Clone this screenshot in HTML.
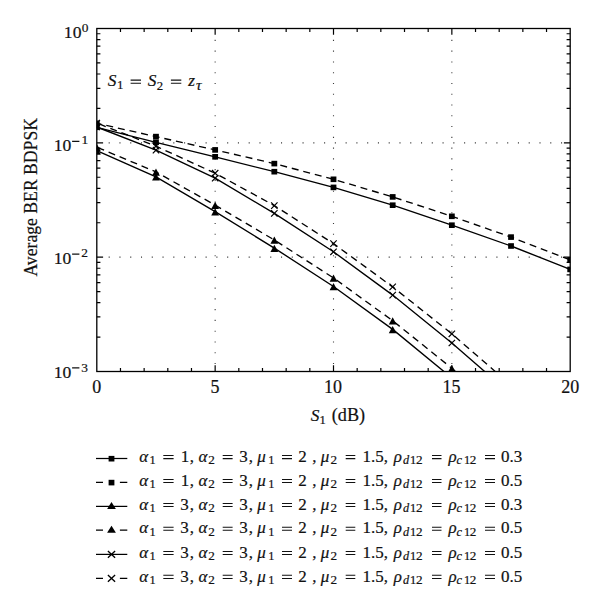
<!DOCTYPE html><html><head><meta charset="utf-8"><style>html,body{margin:0;padding:0;background:#fff;width:600px;height:607px;overflow:hidden}svg{display:block}text{font-family:"Liberation Serif",serif;fill:#111;stroke:#111;stroke-width:0.2px}.i{font-style:italic}</style></head><body>
<svg width="600" height="607" viewBox="0 0 600 607">
<defs><clipPath id="c"><rect x="96.8" y="28.5" width="473.40000000000003" height="343.0"/></clipPath></defs>
<g stroke="#3a3a3a" stroke-width="1.1" stroke-dasharray="1.1 9.67"><line x1="215.15" y1="39.85" x2="215.15" y2="370.50"/><line x1="333.50" y1="39.85" x2="333.50" y2="370.50"/><line x1="451.85" y1="39.85" x2="451.85" y2="370.50"/><line x1="108.65" y1="142.83" x2="569.20" y2="142.83"/><line x1="108.65" y1="257.17" x2="569.20" y2="257.17"/></g>
<path d="M120.47 371.50v-3.6M120.47 28.50v3.6M144.14 371.50v-3.6M144.14 28.50v3.6M167.81 371.50v-3.6M167.81 28.50v3.6M191.48 371.50v-3.6M191.48 28.50v3.6M215.15 371.50v-6.3M215.15 28.50v6.3M238.82 371.50v-3.6M238.82 28.50v3.6M262.49 371.50v-3.6M262.49 28.50v3.6M286.16 371.50v-3.6M286.16 28.50v3.6M309.83 371.50v-3.6M309.83 28.50v3.6M333.50 371.50v-6.3M333.50 28.50v6.3M357.17 371.50v-3.6M357.17 28.50v3.6M380.84 371.50v-3.6M380.84 28.50v3.6M404.51 371.50v-3.6M404.51 28.50v3.6M428.18 371.50v-3.6M428.18 28.50v3.6M451.85 371.50v-6.3M451.85 28.50v6.3M475.52 371.50v-3.6M475.52 28.50v3.6M499.19 371.50v-3.6M499.19 28.50v3.6M522.86 371.50v-3.6M522.86 28.50v3.6M546.53 371.50v-3.6M546.53 28.50v3.6M96.80 142.83h6.3M570.20 142.83h-6.3M96.80 108.42h3.6M570.20 108.42h-3.6M96.80 88.28h3.6M570.20 88.28h-3.6M96.80 74.00h3.6M570.20 74.00h-3.6M96.80 62.92h3.6M570.20 62.92h-3.6M96.80 53.86h3.6M570.20 53.86h-3.6M96.80 46.21h3.6M570.20 46.21h-3.6M96.80 39.58h3.6M570.20 39.58h-3.6M96.80 33.73h3.6M570.20 33.73h-3.6M96.80 257.17h6.3M570.20 257.17h-6.3M96.80 222.75h3.6M570.20 222.75h-3.6M96.80 202.62h3.6M570.20 202.62h-3.6M96.80 188.33h3.6M570.20 188.33h-3.6M96.80 177.25h3.6M570.20 177.25h-3.6M96.80 168.20h3.6M570.20 168.20h-3.6M96.80 160.54h3.6M570.20 160.54h-3.6M96.80 153.91h3.6M570.20 153.91h-3.6M96.80 148.06h3.6M570.20 148.06h-3.6M96.80 337.08h3.6M570.20 337.08h-3.6M96.80 316.95h3.6M570.20 316.95h-3.6M96.80 302.66h3.6M570.20 302.66h-3.6M96.80 291.58h3.6M570.20 291.58h-3.6M96.80 282.53h3.6M570.20 282.53h-3.6M96.80 274.88h3.6M570.20 274.88h-3.6M96.80 268.25h3.6M570.20 268.25h-3.6M96.80 262.40h3.6M570.20 262.40h-3.6" stroke="#000" stroke-width="1.2" fill="none"/>
<g clip-path="url(#c)" fill="none" stroke="#000" stroke-width="1.35">
<polyline points="96.80,127.30 155.97,142.30 215.15,156.80 274.33,171.70 333.50,187.40 392.68,205.20 451.85,225.20 511.03,246.00 570.20,269.40"/>
<polyline points="96.80,123.30 155.97,136.60 215.15,149.90 274.33,163.60 333.50,179.30 392.68,196.90 451.85,216.30 511.03,237.10 570.20,259.90" stroke-dasharray="7 4.9" stroke-dashoffset="2.2"/>
<polyline points="96.80,127.00 155.97,150.20 215.15,178.20 274.33,213.40 333.50,251.80 392.68,295.10 451.85,343.00 511.03,394.40 570.20,450.00"/>
<polyline points="96.80,123.00 155.97,146.20 215.15,173.20 274.33,205.60 333.50,243.60 392.68,286.90 451.85,333.80 511.03,385.20 570.20,440.00" stroke-dasharray="7 4.9" stroke-dashoffset="9.3"/>
<polyline points="96.80,150.60 155.97,176.80 215.15,211.70 274.33,248.10 333.50,286.50 392.68,329.40 451.85,378.00 511.03,430.00 570.20,490.00"/>
<polyline points="96.80,147.20 155.97,171.90 215.15,205.10 274.33,240.00 333.50,277.90 392.68,320.70 451.85,368.30 511.03,420.00 570.20,480.00" stroke-dasharray="7 4.9" stroke-dashoffset="11.0"/>
</g>
<g clip-path="url(#c)" fill="#000">
<rect x="93.90" y="124.50" width="5.8" height="5.6"/>
<rect x="153.07" y="139.50" width="5.8" height="5.6"/>
<rect x="212.25" y="154.00" width="5.8" height="5.6"/>
<rect x="271.43" y="168.90" width="5.8" height="5.6"/>
<rect x="330.60" y="184.60" width="5.8" height="5.6"/>
<rect x="389.78" y="202.40" width="5.8" height="5.6"/>
<rect x="448.95" y="222.40" width="5.8" height="5.6"/>
<rect x="508.13" y="243.20" width="5.8" height="5.6"/>
<rect x="567.30" y="266.60" width="5.8" height="5.6"/>
<rect x="93.90" y="120.50" width="5.8" height="5.6"/>
<rect x="153.07" y="133.80" width="5.8" height="5.6"/>
<rect x="212.25" y="147.10" width="5.8" height="5.6"/>
<rect x="271.43" y="160.80" width="5.8" height="5.6"/>
<rect x="330.60" y="176.50" width="5.8" height="5.6"/>
<rect x="389.78" y="194.10" width="5.8" height="5.6"/>
<rect x="448.95" y="213.50" width="5.8" height="5.6"/>
<rect x="508.13" y="234.30" width="5.8" height="5.6"/>
<rect x="567.30" y="257.10" width="5.8" height="5.6"/>
<path d="M96.80 147.20L100.70 154.40H92.90Z"/>
<path d="M155.97 173.40L159.88 180.60H152.07Z"/>
<path d="M215.15 208.30L219.05 215.50H211.25Z"/>
<path d="M274.33 244.70L278.23 251.90H270.43Z"/>
<path d="M333.50 283.10L337.40 290.30H329.60Z"/>
<path d="M392.68 326.00L396.57 333.20H388.78Z"/>
<path d="M451.85 374.60L455.75 381.80H447.95Z"/>
<path d="M511.03 426.60L514.93 433.80H507.13Z"/>
<path d="M570.20 486.60L574.10 493.80H566.30Z"/>
<path d="M96.80 143.80L100.70 151.00H92.90Z"/>
<path d="M155.97 168.50L159.88 175.70H152.07Z"/>
<path d="M215.15 201.70L219.05 208.90H211.25Z"/>
<path d="M274.33 236.60L278.23 243.80H270.43Z"/>
<path d="M333.50 274.50L337.40 281.70H329.60Z"/>
<path d="M392.68 317.30L396.57 324.50H388.78Z"/>
<path d="M451.85 364.90L455.75 372.10H447.95Z"/>
<path d="M511.03 416.60L514.93 423.80H507.13Z"/>
<path d="M570.20 476.60L574.10 483.80H566.30Z"/>
<path d="M93.60 123.80L100.00 130.20M100.00 123.80L93.60 130.20" fill="none" stroke="#000" stroke-width="1.2"/>
<path d="M152.78 147.00L159.17 153.40M159.17 147.00L152.78 153.40" fill="none" stroke="#000" stroke-width="1.2"/>
<path d="M211.95 175.00L218.35 181.40M218.35 175.00L211.95 181.40" fill="none" stroke="#000" stroke-width="1.2"/>
<path d="M271.13 210.20L277.53 216.60M277.53 210.20L271.13 216.60" fill="none" stroke="#000" stroke-width="1.2"/>
<path d="M330.30 248.60L336.70 255.00M336.70 248.60L330.30 255.00" fill="none" stroke="#000" stroke-width="1.2"/>
<path d="M389.48 291.90L395.88 298.30M395.88 291.90L389.48 298.30" fill="none" stroke="#000" stroke-width="1.2"/>
<path d="M448.65 339.80L455.05 346.20M455.05 339.80L448.65 346.20" fill="none" stroke="#000" stroke-width="1.2"/>
<path d="M507.83 391.20L514.23 397.60M514.23 391.20L507.83 397.60" fill="none" stroke="#000" stroke-width="1.2"/>
<path d="M567.00 446.80L573.40 453.20M573.40 446.80L567.00 453.20" fill="none" stroke="#000" stroke-width="1.2"/>
<path d="M93.60 119.80L100.00 126.20M100.00 119.80L93.60 126.20" fill="none" stroke="#000" stroke-width="1.2"/>
<path d="M152.78 143.00L159.17 149.40M159.17 143.00L152.78 149.40" fill="none" stroke="#000" stroke-width="1.2"/>
<path d="M211.95 170.00L218.35 176.40M218.35 170.00L211.95 176.40" fill="none" stroke="#000" stroke-width="1.2"/>
<path d="M271.13 202.40L277.53 208.80M277.53 202.40L271.13 208.80" fill="none" stroke="#000" stroke-width="1.2"/>
<path d="M330.30 240.40L336.70 246.80M336.70 240.40L330.30 246.80" fill="none" stroke="#000" stroke-width="1.2"/>
<path d="M389.48 283.70L395.88 290.10M395.88 283.70L389.48 290.10" fill="none" stroke="#000" stroke-width="1.2"/>
<path d="M448.65 330.60L455.05 337.00M455.05 330.60L448.65 337.00" fill="none" stroke="#000" stroke-width="1.2"/>
<path d="M507.83 382.00L514.23 388.40M514.23 382.00L507.83 388.40" fill="none" stroke="#000" stroke-width="1.2"/>
<path d="M567.00 436.80L573.40 443.20M573.40 436.80L567.00 443.20" fill="none" stroke="#000" stroke-width="1.2"/>
</g>
<rect x="96.8" y="28.5" width="473.40" height="343.00" fill="none" stroke="#000" stroke-width="1.3"/>
<text x="63.85" y="37.90" font-size="17.6">10</text>
<text x="81.79" y="31.70" font-size="13.4">0</text>
<text x="53.67" y="150.80" font-size="17.6">10</text>
<text x="81.52" y="144.30" font-size="13.4">1</text>
<text x="53.67" y="263.80" font-size="17.6">10</text>
<text x="81.31" y="257.40" font-size="13.4">2</text>
<text x="53.67" y="377.50" font-size="17.6">10</text>
<text x="81.26" y="371.60" font-size="13.4">3</text>
<text x="92.30" y="393.10" font-size="18">0</text>
<text x="210.48" y="393.10" font-size="18">5</text>
<text x="324.05" y="393.10" font-size="18">10</text>
<text x="442.41" y="393.10" font-size="18">15</text>
<text x="561.15" y="393.10" font-size="18">20</text>
<text x="310.80" y="421.00" font-size="17.3" class="i">S</text>
<text x="319.50" y="423.80" font-size="12.5">1</text>
<text x="331.80" y="421.20" font-size="18.2">(dB)</text>
<text transform="translate(37.2,276.6) rotate(-90)" font-size="19" textLength="158.6" lengthAdjust="spacingAndGlyphs">Average BER BDPSK</text>
<text x="107.80" y="86.20" font-size="17.3" class="i">S</text>
<text x="117.08" y="89.40" font-size="12.8">1</text>
<text x="147.80" y="86.20" font-size="17.3" class="i">S</text>
<text x="156.74" y="89.50" font-size="12.8">2</text>
<text x="188.19" y="86.20" font-size="17.3" class="i">z</text>
<text x="195.96" y="89.60" font-size="15.5" class="i">τ</text>
<path d="M96 458.50H127.3" stroke="#000" stroke-width="1.25"/>
<rect fill="#000" x="108.60" y="455.90" width="5.8" height="5.6"/>
<text x="139.19" y="461.70" font-size="17.0" class="i">α</text>
<text x="149.52" y="464.20" font-size="12.3">1</text>
<text x="180.81" y="461.70" font-size="17.0">1</text>
<text x="189.65" y="461.70" font-size="17.0">,</text>
<text x="198.49" y="461.70" font-size="17.0" class="i">α</text>
<text x="208.32" y="464.20" font-size="13.2">2</text>
<text x="239.19" y="461.70" font-size="17.0">3</text>
<text x="248.65" y="461.70" font-size="17.0">,</text>
<text x="257.32" y="461.70" font-size="17.0" class="i">μ</text>
<text x="268.22" y="464.20" font-size="12.3">1</text>
<text x="298.25" y="461.70" font-size="17.0">2</text>
<text x="312.35" y="461.70" font-size="17.0">,</text>
<text x="320.72" y="461.70" font-size="17.0" class="i">μ</text>
<text x="330.42" y="464.20" font-size="13.2">2</text>
<text x="362.51" y="461.70" font-size="17.0">1.5,</text>
<text x="393.73" y="461.70" font-size="17.0" class="i">ρ</text>
<text x="402.93" y="464.20" font-size="12.3" class="i">d</text>
<text x="409.92" y="464.20" font-size="12.3">1</text>
<text x="416.12" y="464.20" font-size="13.2">2</text>
<text x="448.43" y="461.70" font-size="17.0" class="i">ρ</text>
<text x="456.62" y="464.20" font-size="12.3" class="i">c</text>
<text x="463.92" y="464.20" font-size="12.3">1</text>
<text x="469.72" y="464.20" font-size="13.2">2</text>
<text x="501.05" y="461.70" font-size="17.0">0.3</text>
<path d="M96 482.40H103M119.9 482.40H127.3" stroke="#000" stroke-width="1.25"/>
<rect fill="#000" x="108.60" y="479.80" width="5.8" height="5.6"/>
<text x="139.19" y="485.60" font-size="17.0" class="i">α</text>
<text x="149.52" y="488.10" font-size="12.3">1</text>
<text x="180.81" y="485.60" font-size="17.0">1</text>
<text x="189.65" y="485.60" font-size="17.0">,</text>
<text x="198.49" y="485.60" font-size="17.0" class="i">α</text>
<text x="208.32" y="488.10" font-size="13.2">2</text>
<text x="239.19" y="485.60" font-size="17.0">3</text>
<text x="248.65" y="485.60" font-size="17.0">,</text>
<text x="257.32" y="485.60" font-size="17.0" class="i">μ</text>
<text x="268.22" y="488.10" font-size="12.3">1</text>
<text x="298.25" y="485.60" font-size="17.0">2</text>
<text x="312.35" y="485.60" font-size="17.0">,</text>
<text x="320.72" y="485.60" font-size="17.0" class="i">μ</text>
<text x="330.42" y="488.10" font-size="13.2">2</text>
<text x="362.51" y="485.60" font-size="17.0">1.5,</text>
<text x="393.73" y="485.60" font-size="17.0" class="i">ρ</text>
<text x="402.93" y="488.10" font-size="12.3" class="i">d</text>
<text x="409.92" y="488.10" font-size="12.3">1</text>
<text x="416.12" y="488.10" font-size="13.2">2</text>
<text x="448.43" y="485.60" font-size="17.0" class="i">ρ</text>
<text x="456.62" y="488.10" font-size="12.3" class="i">c</text>
<text x="463.92" y="488.10" font-size="12.3">1</text>
<text x="469.72" y="488.10" font-size="13.2">2</text>
<text x="501.05" y="485.60" font-size="17.0">0.5</text>
<path d="M96 506.40H127.3" stroke="#000" stroke-width="1.25"/>
<path fill="#000" d="M111.50 501.90L115.90 508.90H107.10Z"/>
<text x="139.19" y="509.60" font-size="17.0" class="i">α</text>
<text x="149.52" y="512.10" font-size="12.3">1</text>
<text x="180.19" y="509.60" font-size="17.0">3</text>
<text x="189.65" y="509.60" font-size="17.0">,</text>
<text x="198.49" y="509.60" font-size="17.0" class="i">α</text>
<text x="208.32" y="512.10" font-size="13.2">2</text>
<text x="239.19" y="509.60" font-size="17.0">3</text>
<text x="248.65" y="509.60" font-size="17.0">,</text>
<text x="257.32" y="509.60" font-size="17.0" class="i">μ</text>
<text x="268.22" y="512.10" font-size="12.3">1</text>
<text x="298.25" y="509.60" font-size="17.0">2</text>
<text x="312.35" y="509.60" font-size="17.0">,</text>
<text x="320.72" y="509.60" font-size="17.0" class="i">μ</text>
<text x="330.42" y="512.10" font-size="13.2">2</text>
<text x="362.51" y="509.60" font-size="17.0">1.5,</text>
<text x="393.73" y="509.60" font-size="17.0" class="i">ρ</text>
<text x="402.93" y="512.10" font-size="12.3" class="i">d</text>
<text x="409.92" y="512.10" font-size="12.3">1</text>
<text x="416.12" y="512.10" font-size="13.2">2</text>
<text x="448.43" y="509.60" font-size="17.0" class="i">ρ</text>
<text x="456.62" y="512.10" font-size="12.3" class="i">c</text>
<text x="463.92" y="512.10" font-size="12.3">1</text>
<text x="469.72" y="512.10" font-size="13.2">2</text>
<text x="501.05" y="509.60" font-size="17.0">0.3</text>
<path d="M96 530.20H103M119.9 530.20H127.3" stroke="#000" stroke-width="1.25"/>
<path fill="#000" d="M111.50 525.70L115.90 532.70H107.10Z"/>
<text x="139.19" y="533.40" font-size="17.0" class="i">α</text>
<text x="149.52" y="535.90" font-size="12.3">1</text>
<text x="180.19" y="533.40" font-size="17.0">3</text>
<text x="189.65" y="533.40" font-size="17.0">,</text>
<text x="198.49" y="533.40" font-size="17.0" class="i">α</text>
<text x="208.32" y="535.90" font-size="13.2">2</text>
<text x="239.19" y="533.40" font-size="17.0">3</text>
<text x="248.65" y="533.40" font-size="17.0">,</text>
<text x="257.32" y="533.40" font-size="17.0" class="i">μ</text>
<text x="268.22" y="535.90" font-size="12.3">1</text>
<text x="298.25" y="533.40" font-size="17.0">2</text>
<text x="312.35" y="533.40" font-size="17.0">,</text>
<text x="320.72" y="533.40" font-size="17.0" class="i">μ</text>
<text x="330.42" y="535.90" font-size="13.2">2</text>
<text x="362.51" y="533.40" font-size="17.0">1.5,</text>
<text x="393.73" y="533.40" font-size="17.0" class="i">ρ</text>
<text x="402.93" y="535.90" font-size="12.3" class="i">d</text>
<text x="409.92" y="535.90" font-size="12.3">1</text>
<text x="416.12" y="535.90" font-size="13.2">2</text>
<text x="448.43" y="533.40" font-size="17.0" class="i">ρ</text>
<text x="456.62" y="535.90" font-size="12.3" class="i">c</text>
<text x="463.92" y="535.90" font-size="12.3">1</text>
<text x="469.72" y="535.90" font-size="13.2">2</text>
<text x="501.05" y="533.40" font-size="17.0">0.5</text>
<path d="M96 554.40H127.3" stroke="#000" stroke-width="1.25"/>
<path d="M107.90 551.00L115.10 557.80M115.10 551.00L107.90 557.80" fill="none" stroke="#000" stroke-width="1.35"/>
<text x="139.19" y="557.60" font-size="17.0" class="i">α</text>
<text x="149.52" y="560.10" font-size="12.3">1</text>
<text x="180.19" y="557.60" font-size="17.0">3</text>
<text x="189.65" y="557.60" font-size="17.0">,</text>
<text x="198.49" y="557.60" font-size="17.0" class="i">α</text>
<text x="208.32" y="560.10" font-size="13.2">2</text>
<text x="239.19" y="557.60" font-size="17.0">3</text>
<text x="248.65" y="557.60" font-size="17.0">,</text>
<text x="257.32" y="557.60" font-size="17.0" class="i">μ</text>
<text x="268.22" y="560.10" font-size="12.3">1</text>
<text x="298.25" y="557.60" font-size="17.0">2</text>
<text x="312.35" y="557.60" font-size="17.0">,</text>
<text x="320.72" y="557.60" font-size="17.0" class="i">μ</text>
<text x="330.42" y="560.10" font-size="13.2">2</text>
<text x="362.51" y="557.60" font-size="17.0">1.5,</text>
<text x="393.73" y="557.60" font-size="17.0" class="i">ρ</text>
<text x="402.93" y="560.10" font-size="12.3" class="i">d</text>
<text x="409.92" y="560.10" font-size="12.3">1</text>
<text x="416.12" y="560.10" font-size="13.2">2</text>
<text x="448.43" y="557.60" font-size="17.0" class="i">ρ</text>
<text x="456.62" y="560.10" font-size="12.3" class="i">c</text>
<text x="463.92" y="560.10" font-size="12.3">1</text>
<text x="469.72" y="560.10" font-size="13.2">2</text>
<text x="501.05" y="557.60" font-size="17.0">0.5</text>
<path d="M96 578.30H103M119.9 578.30H127.3" stroke="#000" stroke-width="1.25"/>
<path d="M107.90 574.90L115.10 581.70M115.10 574.90L107.90 581.70" fill="none" stroke="#000" stroke-width="1.35"/>
<text x="139.19" y="581.50" font-size="17.0" class="i">α</text>
<text x="149.52" y="584.00" font-size="12.3">1</text>
<text x="180.19" y="581.50" font-size="17.0">3</text>
<text x="189.65" y="581.50" font-size="17.0">,</text>
<text x="198.49" y="581.50" font-size="17.0" class="i">α</text>
<text x="208.32" y="584.00" font-size="13.2">2</text>
<text x="239.19" y="581.50" font-size="17.0">3</text>
<text x="248.65" y="581.50" font-size="17.0">,</text>
<text x="257.32" y="581.50" font-size="17.0" class="i">μ</text>
<text x="268.22" y="584.00" font-size="12.3">1</text>
<text x="298.25" y="581.50" font-size="17.0">2</text>
<text x="312.35" y="581.50" font-size="17.0">,</text>
<text x="320.72" y="581.50" font-size="17.0" class="i">μ</text>
<text x="330.42" y="584.00" font-size="13.2">2</text>
<text x="362.51" y="581.50" font-size="17.0">1.5,</text>
<text x="393.73" y="581.50" font-size="17.0" class="i">ρ</text>
<text x="402.93" y="584.00" font-size="12.3" class="i">d</text>
<text x="409.92" y="584.00" font-size="12.3">1</text>
<text x="416.12" y="584.00" font-size="13.2">2</text>
<text x="448.43" y="581.50" font-size="17.0" class="i">ρ</text>
<text x="456.62" y="584.00" font-size="12.3" class="i">c</text>
<text x="463.92" y="584.00" font-size="12.3">1</text>
<text x="469.72" y="584.00" font-size="13.2">2</text>
<text x="501.05" y="581.50" font-size="17.0">0.5</text>
<path d="M130.60 80.10H141.00M130.60 83.30H141.00M170.90 80.10H181.30M170.90 83.30H181.30M163.30 455.50H173.60M163.30 458.60H173.60M222.70 455.50H232.60M222.70 458.60H232.60M282.00 455.50H292.00M282.00 458.60H292.00M345.70 455.50H355.30M345.70 458.60H355.30M432.00 455.50H441.50M432.00 458.60H441.50M485.00 455.50H495.00M485.00 458.60H495.00M163.30 479.40H173.60M163.30 482.50H173.60M222.70 479.40H232.60M222.70 482.50H232.60M282.00 479.40H292.00M282.00 482.50H292.00M345.70 479.40H355.30M345.70 482.50H355.30M432.00 479.40H441.50M432.00 482.50H441.50M485.00 479.40H495.00M485.00 482.50H495.00M163.30 503.40H173.60M163.30 506.50H173.60M222.70 503.40H232.60M222.70 506.50H232.60M282.00 503.40H292.00M282.00 506.50H292.00M345.70 503.40H355.30M345.70 506.50H355.30M432.00 503.40H441.50M432.00 506.50H441.50M485.00 503.40H495.00M485.00 506.50H495.00M163.30 527.20H173.60M163.30 530.30H173.60M222.70 527.20H232.60M222.70 530.30H232.60M282.00 527.20H292.00M282.00 530.30H292.00M345.70 527.20H355.30M345.70 530.30H355.30M432.00 527.20H441.50M432.00 530.30H441.50M485.00 527.20H495.00M485.00 530.30H495.00M163.30 551.40H173.60M163.30 554.50H173.60M222.70 551.40H232.60M222.70 554.50H232.60M282.00 551.40H292.00M282.00 554.50H292.00M345.70 551.40H355.30M345.70 554.50H355.30M432.00 551.40H441.50M432.00 554.50H441.50M485.00 551.40H495.00M485.00 554.50H495.00M163.30 575.30H173.60M163.30 578.40H173.60M222.70 575.30H232.60M222.70 578.40H232.60M282.00 575.30H292.00M282.00 578.40H292.00M345.70 575.30H355.30M345.70 578.40H355.30M432.00 575.30H441.50M432.00 578.40H441.50M485.00 575.30H495.00M485.00 578.40H495.00" stroke="#111" stroke-width="1.05" fill="none"/>
<path d="M72.10 141.40H79.40M72.10 254.10H79.40M72.10 367.80H79.40" stroke="#111" stroke-width="1.35" fill="none"/>
</svg></body></html>
